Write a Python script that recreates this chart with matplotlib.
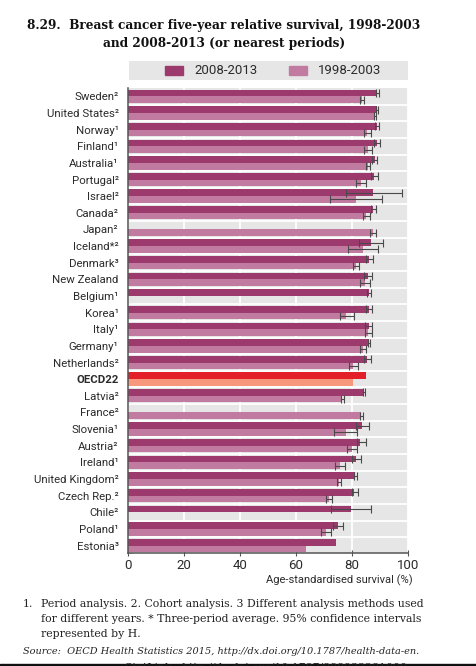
import numpy as np
import matplotlib.pyplot as plt
from matplotlib.patches import Rectangle

nan = np.nan

countries = ['Sweden²', 'United States²', 'Norway¹', 'Finland¹', 'Australia¹',
             'Portugal²', 'Israel²', 'Canada²', 'Japan²', 'Iceland*²', 'Denmark³',
             'New Zealand', 'Belgium¹', 'Korea¹', 'Italy¹', 'Germany¹',
             'Netherlands²', 'OECD22', 'Latvia²', 'France²', 'Slovenia¹',
             'Austria²', 'Ireland¹', 'United Kingdom²', 'Czech Rep.²', 'Chile²',
             'Poland¹', 'Estonia³']

# 2008-2013 survival and 95% CI
surv_2008 = [89.0, 88.9, 88.9, 88.9, 88.1, 87.9, 87.6, 87.6, nan, 86.8, 86.2,
             85.7, 86.1, 86.1, 86.0, 86.1, 85.4, 84.9, 84.2, nan, 83.4, 83.0,
             81.5, 81.2, 80.8, 79.6, 74.8, 74.4]
lo_2008 = [88.4, 88.7, 88.2, 87.9, 87.3, 86.7, 77.7, 86.6, nan, 82.4, 84.9,
           84.2, 85.4, 84.9, 84.7, 85.8, 84.2, nan, 83.8, nan, 81.5, 81.6,
           79.9, 80.6, 79.8, 72.5, 73.2, nan]
hi_2008 = [89.6, 89.2, 89.6, 89.9, 88.9, 89.2, 97.9, 88.7, nan, 91.1, 87.5,
           87.3, 86.8, 87.3, 87.3, 86.5, 86.6, nan, 84.6, nan, 85.9, 84.9,
           83.2, 81.9, 82.1, 86.8, 76.6, nan]

# 1998-2003 survival and 95% CI
surv_1998 = [83.5, 88.1, 85.4, 85.6, 85.8, 83.2, 81.4, 85.1, 87.4, 84.0, 81.4,
             84.6, nan, 78.0, 85.8, 84.0, 80.5, 80.4, 76.5, 83.3, 77.8, 80.0,
             75.7, 75.3, 71.8, nan, 70.6, 63.6]
lo_1998 = [82.8, 87.8, 84.2, 84.2, 85.1, 81.3, 72.0, 83.9, 86.3, 78.7, 80.4,
           82.8, nan, 75.6, 84.6, 83.0, 78.9, nan, 76.0, 82.8, 73.5, 78.2,
           73.9, 74.6, 70.6, nan, 68.9, nan]
hi_1998 = [84.4, 88.4, 86.7, 87.0, 86.5, 85.1, 90.8, 86.3, 88.5, 89.3, 82.5,
           86.3, nan, 80.6, 87.2, 84.9, 82.0, nan, 77.0, 83.9, 81.6, 81.8,
           77.5, 75.9, 73.0, nan, 72.3, nan]

xticks = [0, 20, 40, 60, 80, 100]

COND = dict(family='Roboto', stretch='condensed')
SERIF = ['DejaVu Serif']
dark = '#9c3a6e'
light = '#c27ba0'
oecd_dark = '#e3202a'
oecd_light = '#f7977c'
bg = '#e6e6e7'
txt = '#2b2b2b'

W, H = 476, 666
fig = plt.figure(figsize=(W / 100, H / 100), dpi=100)

# titre
fig.text(27 / W, 1 - 25 / H, '8.29.  Breast cancer five-year relative survival, 1998-2003',
         family=SERIF, weight='bold', fontsize=8.7, ha='left', va='center', color='#111111')
fig.text(224 / W, 1 - 43 / H, 'and 2008-2013 (or nearest periods)',
         family=SERIF, weight='bold', fontsize=8.7, ha='center', va='center', color='#111111')

# légende
lax = fig.add_axes([129 / W, 1 - 80 / H, 279 / W, 19 / H])
lax.set_facecolor(bg)
lax.set_xlim(0, 1)
lax.set_ylim(0, 1)
lax.set_xticks([])
lax.set_yticks([])
for s in lax.spines.values():
    s.set_visible(False)
lax.add_patch(Rectangle((0.129, 0.27), 0.065, 0.46, color=dark))
lax.text(0.233, 0.5, '2008-2013', fontsize=9.5, va='center', color=txt, **COND)
lax.add_patch(Rectangle((0.573, 0.27), 0.065, 0.46, color=light))
lax.text(0.677, 0.5, '1998-2003', fontsize=9.5, va='center', color=txt, **COND)

# graphique
ax = fig.add_axes([128.3 / W, 1 - 553 / H, (408 - 128.3) / W, (553 - 88) / H])
ax.set_facecolor(bg)
y = np.arange(len(countries))
h = 0.4
c_new = [oecd_dark if c == 'OECD22' else dark for c in countries]
c_old = [oecd_light if c == 'OECD22' else light for c in countries]

v_new = np.array(surv_2008)
v_old = np.array(surv_1998)
ax.barh(y - h / 2, np.nan_to_num(v_new), height=h, color=c_new, zorder=2)
ax.barh(y + h / 2, np.nan_to_num(v_old), height=h, color=c_old, zorder=2)

for lo, hi, yy in [(lo_2008, hi_2008, y - h / 2), (lo_1998, hi_1998, y + h / 2)]:
    lo = np.array(lo)
    hi = np.array(hi)
    m = ~np.isnan(lo)
    mid = (lo + hi) / 2
    ax.errorbar(mid[m], yy[m], xerr=[(mid - lo)[m], (hi - mid)[m]], fmt='none',
                ecolor='#4a4a4a', elinewidth=0.8, capsize=2.6, capthick=0.8, zorder=3)

for yi in y[:-1]:
    ax.axhline(yi + 0.5, color='white', lw=1.3, zorder=1)

ax.set_xlim(0, 100)
ax.set_ylim(27.42, -0.5)
ax.set_xticks(xticks)
ax.set_xticklabels([str(t) for t in xticks], fontsize=9.5, color=txt, **COND)
ax.xaxis.grid(True, color='white', lw=1.3, zorder=1)
ax.set_axisbelow(True)
ax.set_yticks(y)
ax.set_yticklabels(countries, fontsize=8.2, color=txt, **COND)
for lab in ax.get_yticklabels():
    if lab.get_text() == 'OECD22':
        lab.set_fontweight('bold')
ax.set_yticks(y + 0.45, minor=True)
ax.tick_params(axis='y', which='major', length=0, pad=7)
ax.tick_params(axis='y', which='minor', direction='in', length=3, color='#b0b0b0')
ax.tick_params(axis='x', direction='inout', length=5, color='#555555', pad=1.5)
for s in ['top', 'right']:
    ax.spines[s].set_visible(False)
for s in ['left', 'bottom']:
    ax.spines[s].set_color('#555555')
    ax.spines[s].set_linewidth(1.1)

fig.text(413 / W, 1 - 580 / H, 'Age-standardised survival (%)', fontsize=8,
         ha='right', va='center', color=txt, **COND)

# notes
fs = 7.8
fig.text(23 / W, 1 - 604 / H, '1.', family=SERIF, fontsize=fs, va='center', color='#222222')
fig.text(41 / W, 1 - 604 / H,
         'Period analysis. 2. Cohort analysis. 3 Different analysis methods used',
         family=SERIF, fontsize=fs, va='center', color='#222222')
fig.text(41 / W, 1 - 619 / H,
         'for different years. * Three-period average. 95% confidence intervals',
         family=SERIF, fontsize=fs, va='center', color='#222222')
fig.text(41 / W, 1 - 634 / H, 'represented by H.',
         family=SERIF, fontsize=fs, va='center', color='#222222')
fig.text(23 / W, 1 - 651 / H,
         'Source:  OECD Health Statistics 2015, http://dx.doi.org/10.1787/health-data-en.',
         family=SERIF, style='italic', fontsize=7.0, va='center', color='#222222')
fig.text(125 / W, 1 - 668 / H, 'StatLink   http://dx.doi.org/10.1787/888933281000',
         family=SERIF, fontsize=fs, va='center', color='#222222')
fig.add_artist(Rectangle((0, 0), 1, 2.5 / H, transform=fig.transFigure,
                         color='#111111'))

fig.savefig('out.png', dpi=100)
